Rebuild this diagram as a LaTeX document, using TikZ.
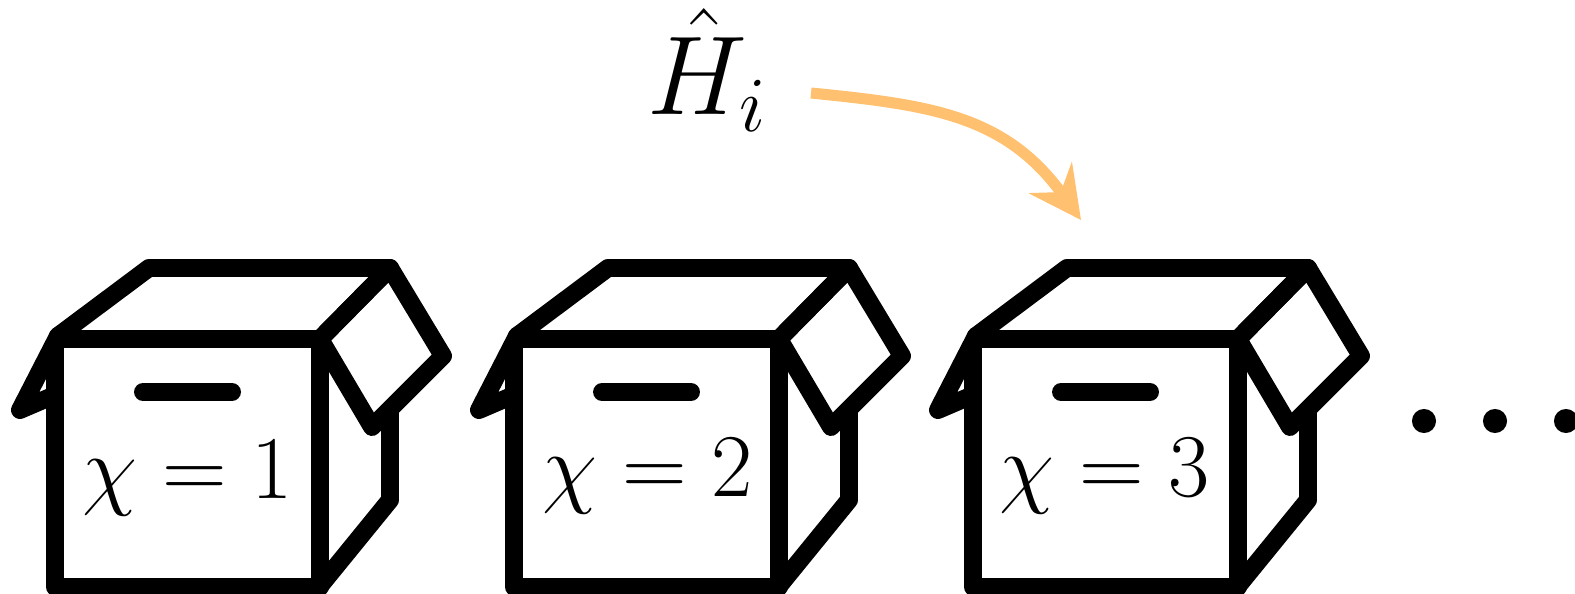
\documentclass[tikz,border=0pt]{standalone}
\usepackage{tikz}
\usetikzlibrary{arrows.meta, positioning}
\definecolor{arrowgold}{RGB}{255,192,112}
\tikzset{
  boxline/.style={draw=black, line width=10.2pt, line join=round, line cap=round},
  boxlabel/.style={anchor=base, inner sep=0pt, scale=2.05, font=\Huge},
  hatlabel/.style={anchor=base west, inner sep=0pt, scale=2.57, font=\Huge},
  golddot/.style={circle, fill=black, draw=none, minimum size=13.7pt, inner sep=0pt},
  goldarrow/.style={draw=arrowgold, line width=6.3pt, -{Stealth[length=29.6pt, width=30pt, inset=10pt]}}
}

\begin{document}
\begin{tikzpicture}[x=0.02cm, y=-0.02cm]

  \useasboundingbox (0,0) rectangle (1575,594);

  % Three open boxes
  \foreach \i/\dx/\lx/\ly in {1/0/188/498, 2/459/189/496, 3/918/187/496} {
    \begin{scope}[xshift=\dx*0.02cm]
      % Front face
      \draw[boxline] (62,339) -- (320,339) -- (320,587) -- (55,587) -- (55,346);
      % Top opening
      \draw[boxline] (58,336) -- (149,268) -- (390,268) -- (320,339);
      % Flaps
      \draw[boxline] (58,336) -- (20,410) -- (55,395);
      \draw[boxline] (320,339) -- (390,268) -- (443,356) -- (372,427) -- cycle;
      % Side
      \draw[boxline] (390,413) -- (390,500) -- (320,586);
      % Handle
      \draw[boxline] (143,392) -- (232,392);
      \node[boxlabel] (chi\i) at (\lx,\ly) {$\chi = \i$};
    \end{scope}
  }

  % Dots after the last box
  \node[golddot] (dota) at (1424,421) {};
  \node[golddot] (dotb) at (1495,421) {};
  \node[golddot] (dotc) at (1566,421) {};

  % Operator and its arrow
  \node[hatlabel] (hamil) at (647,115) {$\hat{H}_{\scriptscriptstyle i}$};
  \coordinate (arrowstart) at (811,93);
  \coordinate (arrowend) at (1081,220);
  \draw[goldarrow] (arrowstart) .. controls (930,105) and (1005,115) .. (arrowend);

\end{tikzpicture}
\end{document}
